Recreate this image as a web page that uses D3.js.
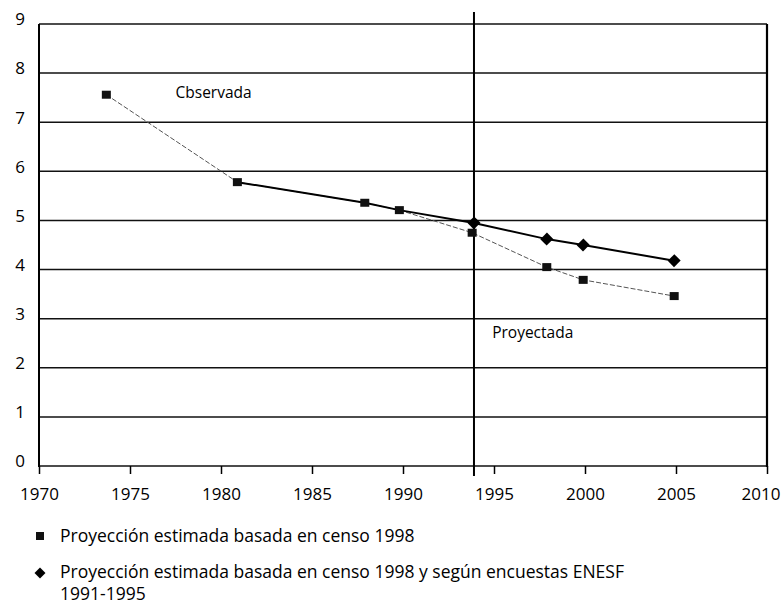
<!DOCTYPE html>
<html>
<head>
<meta charset="utf-8">
<script src="https://cdn.jsdelivr.net/npm/d3@7"></script>
<style>
  body { margin: 0; background: #fff; }
  svg { display: block; }
</style>
</head>
<body>
<svg id="chart"></svg>
<script>
// serie censo 1998 (cuadrados)
const censoYears = [1973.7, 1980.9, 1987.9, 1989.8, 1993.8, 1997.9, 1999.9, 2004.9];
const censoValues = [7.56, 5.78, 5.36, 5.21, 4.75, 4.05, 3.79, 3.46];
// serie censo 1998 + ENESF (rombos), tramo comun incluido
const enesfYears = [1980.9, 1987.9, 1989.8, 1993.9, 1997.9, 1999.9, 2004.9];
const enesfValues = [5.78, 5.36, 5.21, 4.95, 4.62, 4.50, 4.18];
const enesfMarkerFrom = 3;
const xTicks = [1970, 1975, 1980, 1985, 1990, 1995, 2000, 2005, 2010];
const yTicks = [0, 1, 2, 3, 4, 5, 6, 7, 8, 9];
const splitYear = 1993.9;
const legendLabels = [
    "Proyección estimada basada en censo 1998",
    "Proyección estimada basada en censo 1998 y según encuestas ENESF",
    "1991-1995"
];

const W = 782, H = 609;
const style = ({
    margin: { left: 39, right: 15, top: 24, bottom: 143 },
    font: "Open Sans, sans-serif"
});

const svg = d3.select("#chart")
    .attr("width", W)
    .attr("height", H)
    .attr("viewBox", [0, 0, W, H]);

const x = d3.scaleLinear()
    .domain([1970, 2010])
    .range([style.margin.left, W - style.margin.right]);

const y = d3.scaleLinear()
    .domain([0, 9])
    .range([H - style.margin.bottom, style.margin.top]);

// lineas horizontales
svg.append("g")
    .selectAll("line")
    .data(yTicks)
    .join("line")
    .attr("x1", x(1970))
    .attr("x2", x(2010))
    .attr("y1", d => y(d))
    .attr("y2", d => y(d))
    .attr("stroke", "#111")
    .attr("stroke-width", 1.5);

// marco izquierdo y derecho
svg.append("line")
    .attr("x1", x(1970)).attr("x2", x(1970))
    .attr("y1", y(9)).attr("y2", y(0) + 1)
    .attr("stroke", "#000").attr("stroke-width", 2);
svg.append("line")
    .attr("x1", x(2010)).attr("x2", x(2010))
    .attr("y1", y(9)).attr("y2", y(0) + 1)
    .attr("stroke", "#000").attr("stroke-width", 2.2);

// eje x
const xAxis = svg.append("g")
    .attr("transform", `translate(0,${y(0)})`)
    .call(d3.axisBottom(x).tickValues(xTicks).tickFormat(d3.format("d")).tickSize(8).tickPadding(14));
xAxis.select(".domain").remove();
xAxis.selectAll(".tick line").attr("stroke", "#000").attr("stroke-width", 1.5);
xAxis.selectAll(".tick text")
    .attr("fill", "#000")
    .style("font", `17px ${style.font}`);
// la ultima etiqueta queda pegada al borde derecho
xAxis.selectAll(".tick text")
    .filter(d => d === 2010)
    .attr("text-anchor", "end")
    .attr("dx", 13);

// eje y (solo etiquetas)
const yAxis = svg.append("g")
    .attr("transform", `translate(${x(1970)},0)`)
    .call(d3.axisLeft(y).tickValues(yTicks).tickSize(0).tickPadding(14));
yAxis.select(".domain").remove();
yAxis.selectAll(".tick text")
    .attr("fill", "#000")
    .attr("dy", "0.05em")
    .style("font", `17px ${style.font}`);

// division observada / proyectada
svg.append("line")
    .attr("x1", x(splitYear)).attr("x2", x(splitYear))
    .attr("y1", y(9) - 12).attr("y2", y(0) + 10)
    .attr("stroke", "#000").attr("stroke-width", 2);

const line = d3.line()
    .x(d => x(d[0]))
    .y(d => y(d[1]));

const censo = censoYears.map((d, i) => [d, censoValues[i]]);
const enesf = enesfYears.map((d, i) => [d, enesfValues[i]]);

svg.append("path")
    .datum(censo)
    .attr("d", line)
    .attr("fill", "none")
    .attr("stroke", "#555")
    .attr("stroke-width", 1)
    .attr("stroke-dasharray", "5,2");

svg.append("path")
    .datum(enesf)
    .attr("d", line)
    .attr("fill", "none")
    .attr("stroke", "#000")
    .attr("stroke-width", 2);

svg.append("g")
    .selectAll("rect")
    .data(censo)
    .join("rect")
    .attr("x", d => x(d[0]) - 4.5)
    .attr("y", d => y(d[1]) - 4)
    .attr("width", 9)
    .attr("height", 8)
    .attr("fill", "#111");

// rombo ancho: cuadrado girado 45 grados
const diamond = d3.symbol().type(d3.symbolSquare).size(80);
svg.append("g")
    .selectAll("path")
    .data(enesf.slice(enesfMarkerFrom))
    .join("path")
    .attr("transform", d => `translate(${x(d[0])},${y(d[1])}) rotate(45) scale(1,1.05)`)
    .attr("d", diamond)
    .attr("fill", "#000");

// rotulos
svg.append("text")
    .attr("x", x(1977.5))
    .attr("y", y(7.6))
    .attr("dy", "0.35em")
    .style("font", `15.5px ${style.font}`)
    .text("Cbservada");

svg.append("text")
    .attr("x", x(1994.9))
    .attr("y", y(2.71))
    .attr("dy", "0.35em")
    .style("font", `15.5px ${style.font}`)
    .text("Proyectada");

// leyenda
const legend = svg.append("g")
    .attr("transform", "translate(40,536)");

legend.append("rect")
    .attr("x", -4).attr("y", -4)
    .attr("width", 8).attr("height", 8)
    .attr("fill", "#111");
legend.append("path")
    .attr("transform", "translate(0,37) rotate(45)")
    .attr("d", d3.symbol().type(d3.symbolSquare).size(60))
    .attr("fill", "#000");

const legendY = [0, 36, 58];
legend.selectAll("text")
    .data(legendLabels)
    .join("text")
    .attr("x", 20)
    .attr("y", (d, i) => legendY[i])
    .attr("dy", "0.35em")
    .style("font", `17.5px ${style.font}`)
    .text(d => d);
</script>
</body>
</html>
